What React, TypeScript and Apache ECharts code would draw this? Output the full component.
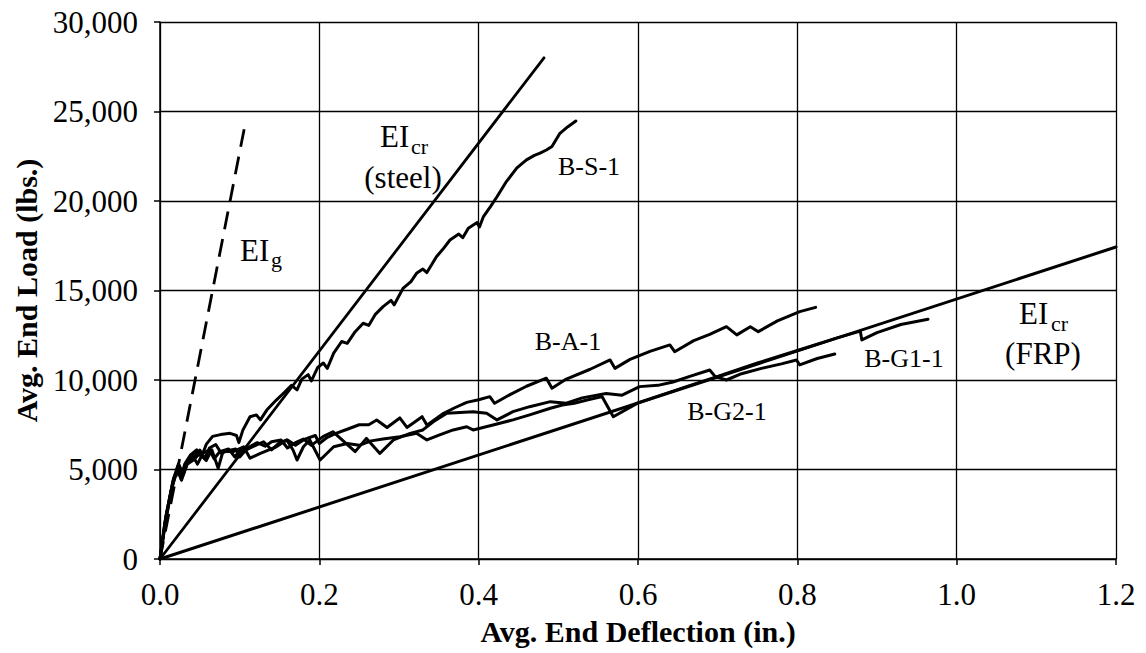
import React, { useEffect, useRef } from "react";
import * as echarts from "echarts";

const FONT = "'Liberation Serif', 'Times New Roman', Times, serif";

const X_MIN = 0;
const X_MAX = 1.2;
const X_STEP = 0.2;
const Y_MIN = 0;
const Y_MAX = 30000;
const Y_STEP = 5000;

const X_TITLE = "Avg. End Deflection (in.)";
const Y_TITLE = "Avg. End Load (lbs.)";

// Theoretical stiffness lines
const EI_G: [number, number][] = [[0, 0], [0.106, 24100]];
const EI_CR_STEEL: [number, number][] = [[0, 0], [0.482, 28000]];
const EI_CR_FRP: [number, number][] = [[0, 0], [1.2, 17430]];

// Measured curves
const B_S_1: [number, number][] = [
  [0, 0], [0.006, 1800], [0.014, 3800], [0.022, 5150], [0.026, 4500], [0.031, 5300], [0.038, 5800],
  [0.046, 6100], [0.052, 5700], [0.058, 6400], [0.066, 6850], [0.076, 6950], [0.088, 7020],
  [0.096, 6900], [0.099, 6500], [0.104, 7200], [0.113, 7950], [0.121, 8050], [0.126, 7770],
  [0.134, 8320], [0.146, 8880], [0.155, 9260], [0.165, 9700], [0.172, 9450], [0.178, 10050],
  [0.186, 10300], [0.19, 9950], [0.198, 10700], [0.205, 10950], [0.21, 10650], [0.218, 11500],
  [0.228, 12150], [0.235, 12050], [0.245, 12700], [0.255, 13170], [0.262, 13050], [0.27, 13650],
  [0.28, 14100], [0.29, 14450], [0.294, 14200], [0.305, 15120], [0.315, 15500], [0.322, 15960],
  [0.33, 16200], [0.335, 16000], [0.347, 16890], [0.355, 17300], [0.364, 17820], [0.375, 18150],
  [0.38, 17950], [0.387, 18480], [0.398, 18800], [0.401, 18550], [0.406, 19130], [0.415, 19700],
  [0.423, 20240], [0.435, 21100], [0.448, 21850], [0.46, 22300], [0.47, 22550], [0.477, 22670],
  [0.485, 22850], [0.492, 23040], [0.502, 23780], [0.512, 24150], [0.522, 24470],
];

const B_A_1: [number, number][] = [
  [0, 0], [0.007, 2300], [0.016, 4300], [0.023, 5300], [0.028, 4800], [0.035, 5500], [0.043, 5800],
  [0.05, 6090], [0.056, 5600], [0.062, 6200], [0.07, 6400], [0.077, 5900], [0.085, 6050],
  [0.095, 6150], [0.1, 5700], [0.108, 6100], [0.12, 6350], [0.13, 6550], [0.14, 6100], [0.15, 6500],
  [0.16, 6650], [0.17, 6350], [0.182, 6700], [0.195, 6900], [0.2, 6450], [0.21, 6800], [0.22, 7000],
  [0.235, 7250], [0.25, 7500], [0.262, 7500], [0.272, 7770], [0.285, 7350], [0.301, 7880],
  [0.31, 7350], [0.329, 7950], [0.335, 7480], [0.356, 8140], [0.37, 8450], [0.385, 8750],
  [0.4, 8900], [0.414, 9070], [0.42, 8700], [0.44, 9200], [0.46, 9650], [0.485, 10100],
  [0.492, 9540], [0.51, 10050], [0.54, 10600], [0.565, 11120], [0.571, 10650], [0.59, 11150],
  [0.615, 11600], [0.64, 11960], [0.646, 11580], [0.67, 12200], [0.69, 12550], [0.711, 12980],
  [0.724, 12520], [0.741, 12980], [0.751, 12700], [0.775, 13300], [0.803, 13820], [0.823, 14060],
];

const B_G2_1: [number, number][] = [
  [0, 0], [0.008, 2500], [0.017, 4500], [0.024, 5250], [0.029, 4700], [0.035, 5400], [0.042, 5700],
  [0.047, 5300], [0.054, 5900], [0.062, 6100], [0.068, 5600], [0.075, 6000], [0.086, 6150],
  [0.094, 5700], [0.1, 6050], [0.112, 6250], [0.122, 6500], [0.132, 6300], [0.14, 6550],
  [0.152, 6650], [0.16, 6200], [0.17, 6500], [0.18, 6700], [0.19, 6350], [0.205, 6850],
  [0.217, 7110], [0.245, 6000], [0.259, 6740], [0.276, 5900], [0.293, 6650], [0.314, 7020],
  [0.33, 7210], [0.343, 7670], [0.36, 8140], [0.393, 8230], [0.41, 8140], [0.423, 7770],
  [0.443, 8230], [0.464, 8510], [0.49, 8790], [0.51, 8700], [0.53, 9000], [0.56, 9250],
  [0.58, 9150], [0.602, 9630], [0.625, 9700], [0.644, 9890], [0.665, 10200], [0.69, 10560],
  [0.697, 10190], [0.711, 10000], [0.73, 10350], [0.755, 10650], [0.78, 10900], [0.799, 11120],
  [0.803, 10840], [0.825, 11200], [0.847, 11450],
];

const B_G1_1: [number, number][] = [
  [0, 0], [0.006, 2000], [0.015, 4000], [0.022, 5000], [0.027, 4400], [0.034, 5300], [0.042, 5530],
  [0.05, 5900], [0.058, 5500], [0.065, 6100], [0.073, 5070], [0.079, 6000], [0.092, 6000],
  [0.105, 6270], [0.113, 5630], [0.126, 5900], [0.146, 6270], [0.159, 6650], [0.167, 6090],
  [0.172, 5530], [0.18, 6270], [0.188, 6650], [0.201, 5530], [0.218, 6270], [0.235, 6450],
  [0.25, 6350], [0.265, 6600], [0.28, 6700], [0.301, 6830], [0.322, 7020], [0.335, 6650],
  [0.351, 6930], [0.368, 7210], [0.385, 7390], [0.393, 7210], [0.418, 7490], [0.443, 7770],
  [0.464, 8050], [0.49, 8420], [0.505, 8600], [0.52, 8700], [0.536, 8880], [0.555, 9070],
  [0.569, 7950], [0.6, 8720], [0.63, 9170], [0.66, 9620], [0.7, 10200], [0.75, 10950],
  [0.8, 11650], [0.85, 12350], [0.879, 12730], [0.881, 12240], [0.9, 12650], [0.93, 13100],
  [0.964, 13390],
];

function lineSeries(name: string, data: [number, number][], width: number, dashed = false) {
  return {
    name,
    type: "line",
    data,
    showSymbol: false,
    symbol: "none",
    smooth: false,
    lineStyle: {
      color: "#000",
      width,
      type: dashed ? [18, 10] : "solid",
      join: "round",
      cap: dashed ? "butt" : "round",
    },
    z: 3,
  };
}

function label(text: string, x: number, y: number, size: number, align: string = "left") {
  return {
    type: "text",
    x,
    y,
    z: 10,
    style: {
      text,
      font: `${size}px ${FONT}`,
      fill: "#000",
      textAlign: align,
      textVerticalAlign: "middle",
    },
  };
}

export default function App() {
  const ref = useRef<HTMLDivElement>(null);

  useEffect(() => {
    if (!ref.current) return;
    const chart = echarts.init(ref.current, null, { renderer: "svg" });
    chart.setOption({
      animation: false,
      backgroundColor: "#fff",
      grid: { left: 160, top: 22, right: 30, bottom: 94, containLabel: false },
      xAxis: {
        type: "value",
        min: X_MIN,
        max: X_MAX,
        interval: X_STEP,
        name: X_TITLE,
        nameLocation: "middle",
        nameGap: 57,
        nameTextStyle: { fontFamily: FONT, fontSize: 30, fontWeight: "bold", color: "#000" },
        axisLine: { show: true, onZero: false, lineStyle: { color: "#000", width: 1.5 } },
        axisTick: { show: true, length: 6, lineStyle: { color: "#000", width: 1.5 } },
        axisLabel: {
          margin: 20,
          fontFamily: FONT,
          fontSize: 31,
          color: "#000",
          formatter: (v: number) => v.toFixed(1),
        },
        splitLine: { show: true, lineStyle: { color: "#000", width: 1.3 } },
      },
      yAxis: {
        type: "value",
        min: Y_MIN,
        max: Y_MAX,
        interval: Y_STEP,
        name: Y_TITLE,
        nameLocation: "middle",
        nameGap: 116,
        nameTextStyle: { fontFamily: FONT, fontSize: 30, fontWeight: "bold", color: "#000" },
        axisLine: { show: true, onZero: false, lineStyle: { color: "#000", width: 1.5 } },
        axisTick: { show: true, length: 6, lineStyle: { color: "#000", width: 1.5 } },
        axisLabel: {
          margin: 22,
          fontFamily: FONT,
          fontSize: 31,
          color: "#000",
          formatter: (v: number) => v.toLocaleString("en-US"),
        },
        splitLine: { show: true, lineStyle: { color: "#000", width: 1.3 } },
      },
      series: [
        lineSeries("EIg", EI_G, 2.8, true),
        lineSeries("EIcr (steel)", EI_CR_STEEL, 2.8),
        lineSeries("EIcr (FRP)", EI_CR_FRP, 3),
        lineSeries("B-S-1", B_S_1, 3),
        lineSeries("B-A-1", B_A_1, 3),
        lineSeries("B-G2-1", B_G2_1, 3),
        lineSeries("B-G1-1", B_G1_1, 3),
      ],
      graphic: [
        label("EI", 240, 250, 31),
        label("g", 271, 259, 22),
        label("EI", 380, 136, 31),
        label("cr", 411, 146, 22),
        label("(steel)", 403, 177, 31, "center"),
        label("EI", 1019, 313, 31),
        label("cr", 1051, 323, 22),
        label("(FRP)", 1043, 353, 31, "center"),
        label("B-S-1", 589, 166, 26, "center"),
        label("B-A-1", 568, 341, 26, "center"),
        label("B-G2-1", 727, 411, 26, "center"),
        label("B-G1-1", 904, 358, 26, "center"),
      ],
    });
    return () => chart.dispose();
  }, []);

  return (
    <div
      ref={ref}
      style={{ position: "fixed", left: 0, top: 0, width: 1146, height: 653, background: "#fff" }}
    />
  );
}
